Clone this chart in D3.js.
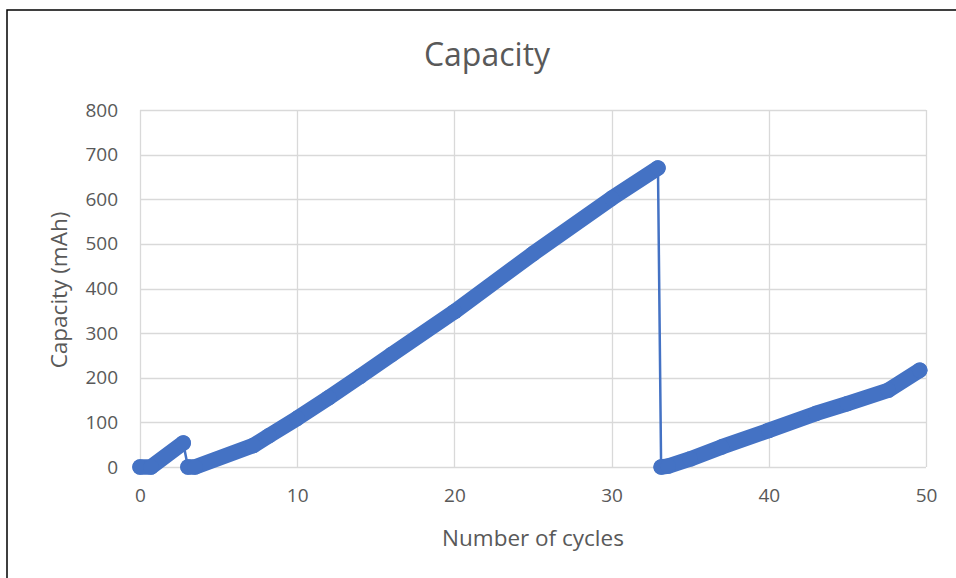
<!DOCTYPE html>
<html>
<head>
<meta charset="utf-8">
<script src="https://cdn.jsdelivr.net/npm/d3@7"></script>
<style>
  html, body { margin: 0; padding: 0; background: #fff; }
  svg { display: block; }
  text { font-family: "Open Sans", Lato, "Liberation Sans", sans-serif; fill: #595959; }
</style>
</head>
<body>
<svg id="chart" width="956" height="578"></svg>
<script>
// Capacity readings, one set of arrays per charging run
const run1Cycles = [0, 0.7, 2.75];
const run1Capacity = [0, 0, 54];
const run2Cycles = [3.05, 3.5, 7.2, 8.2, 10, 12, 14, 16, 20, 25, 30, 32.95];
const run2Capacity = [0, 0, 48, 70, 109, 155, 203, 252, 348, 478, 602, 670];
const run3Cycles = [33.15, 33.6, 35, 37, 40, 43, 45, 47.6, 49.6];
const run3Capacity = [0, 2, 18, 45, 82, 120, 142, 172, 217];

const xTicks = [0, 10, 20, 30, 40, 50];
const yTicks = [0, 100, 200, 300, 400, 500, 600, 700, 800];

const titleText = "Capacity";
const xTitle = "Number of cycles";
const yTitle = "Capacity (mAh)";

const runs = [
  { cycles: run1Cycles, capacity: run1Capacity },
  { cycles: run2Cycles, capacity: run2Capacity },
  { cycles: run3Cycles, capacity: run3Capacity }
].map(r => r.cycles.map((c, i) => ({ x: c, y: r.capacity[i] })));

const allPoints = runs.flat();

const svg = d3.select("#chart");
const color = "#4472C4";

// Outer frame (top and left edges)
svg.append("path")
  .attr("d", "M7,578 L7,10 L956,10")
  .attr("fill", "none")
  .attr("stroke", "#000")
  .attr("stroke-width", 1.5);

const plot = { left: 140, right: 926, top: 110, bottom: 467 };

const x = d3.scaleLinear().domain([0, 50]).range([plot.left, plot.right]);
const y = d3.scaleLinear().domain([0, 800]).range([plot.bottom, plot.top]);

// Gridlines
const grid = svg.append("g").attr("stroke", "#d9d9d9").attr("stroke-width", 1.3);
grid.selectAll("line.h").data(yTicks).join("line")
  .attr("x1", plot.left).attr("x2", plot.right)
  .attr("y1", d => Math.round(y(d)) + 0.5).attr("y2", d => Math.round(y(d)) + 0.5);
grid.selectAll("line.v").data(xTicks).join("line")
  .attr("y1", plot.top).attr("y2", plot.bottom)
  .attr("x1", d => Math.round(x(d)) + 0.5).attr("x2", d => Math.round(x(d)) + 0.5);

// Axes (labels only)
const yAxis = svg.append("g")
  .attr("transform", `translate(${plot.left},0)`)
  .call(d3.axisLeft(y).tickValues(yTicks).tickSize(0).tickPadding(22));
const xAxis = svg.append("g")
  .attr("transform", `translate(0,${plot.bottom})`)
  .call(d3.axisBottom(x).tickValues(xTicks).tickSize(0).tickPadding(22));
[yAxis, xAxis].forEach(a => {
  a.select(".domain").remove();
  a.selectAll("text").attr("font-size", 19).attr("fill", "#595959")
    .attr("font-family", "'Open Sans', Lato, sans-serif");
});

// Connecting line through every reading
const line = d3.line().x(d => x(d.x)).y(d => y(d.y));
svg.append("path")
  .datum(allPoints)
  .attr("d", line)
  .attr("fill", "none")
  .attr("stroke", color)
  .attr("stroke-width", 2.5);

// Dense markers along each run
svg.append("g").selectAll("path").data(runs).join("path")
  .attr("d", line)
  .attr("fill", "none")
  .attr("stroke", color)
  .attr("stroke-width", 15.5)
  .attr("stroke-linecap", "round")
  .attr("stroke-linejoin", "round");

svg.append("g").selectAll("circle").data(allPoints).join("circle")
  .attr("cx", d => x(d.x)).attr("cy", d => y(d.y)).attr("r", 7.75)
  .attr("fill", color);

// Titles
svg.append("text")
  .attr("x", 487).attr("y", 66)
  .attr("text-anchor", "middle")
  .attr("font-size", 32)
  .text(titleText);

svg.append("text")
  .attr("x", 533).attr("y", 546)
  .attr("text-anchor", "middle")
  .attr("font-size", 22.5)
  .text(xTitle);

svg.append("text")
  .attr("transform", "translate(67,290) rotate(-90)")
  .attr("text-anchor", "middle")
  .attr("font-size", 22.5)
  .text(yTitle);
</script>
</body>
</html>
